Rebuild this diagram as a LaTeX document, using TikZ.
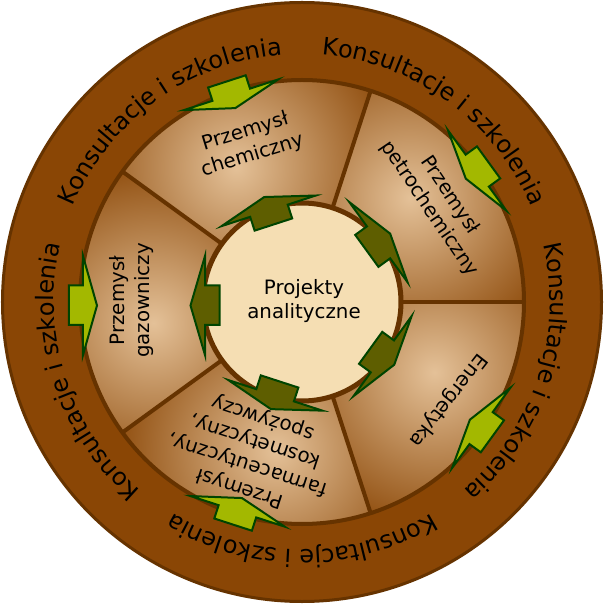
\documentclass[tikz,border=0pt]{standalone}
\usepackage{fontspec}
\setmainfont{DejaVu Sans}
\usetikzlibrary{decorations.text}
\definecolor{ringbrown}{RGB}{138,70,5}
\definecolor{darkbrown}{RGB}{102,51,0}
\definecolor{segcenter}{RGB}{228,193,152}
\definecolor{wheatc}{RGB}{245,222,179}
\definecolor{lightgreen}{RGB}{163,184,0}
\definecolor{olivec}{RGB}{94,94,0}
\definecolor{arrowstroke}{RGB}{0,68,0}
\newcommand{\myLabFont}{\fontsize{19.8}{24.5}\selectfont}
\newcommand{\myRingFont}{\fontsize{24}{28}\selectfont}
\begin{document}
\begin{tikzpicture}[x=1pt,y=1pt,
  outerarrow/.style={fill=lightgreen, draw=arrowstroke, line width=2pt, line join=miter},
  innerarrow/.style={fill=olivec, draw=arrowstroke, line width=2pt, line join=miter},
  seglabel/.style={align=center, font=\myLabFont, inner sep=0pt},
  divider/.style={draw=darkbrown, line width=4pt},
  ringtext/.style={decorate, decoration={text along path, text align=center,
     text={|\myRingFont|Konsultacje i szkolenia}}}]
\useasboundingbox (-302,-302) rectangle (302,302);
% outer ring
\filldraw[fill=ringbrown, draw=darkbrown, line width=3pt] (0,0) circle (299.5);
% segments with gradient
\foreach \c in {108,36,-36,-108,180} {
  \pgfmathsetmacro{\a}{\c-36}
  \pgfmathsetmacro{\b}{\c+36}
  \pgfmathsetmacro{\g}{\c+8}
  \begin{scope}
    \clip (\a:99) arc[start angle=\a, end angle=\b, radius=99]
      -- (\b:222) arc[start angle=\b, end angle=\a, radius=222] -- cycle;
    \fill[ringbrown] (0,0) circle (230);
    \shade[inner color=segcenter, outer color=ringbrown] (\g:150) circle (172);
  \end{scope}
}
\draw[darkbrown, line width=4pt] (0,0) circle (222);
\foreach \d in {144,72,0,-72,-144} {
  \draw[divider] (\d:99) -- (\d:222);
}
% inner circle
\filldraw[fill=wheatc, draw=darkbrown, line width=5pt] (0,0) circle (99);
\node[align=center, font=\myLabFont, inner sep=0pt] (proj) at (2,1) {Projekty\\analityczne};
% arrows
\foreach \c in {108,36,-36,-108,180} {
  \begin{scope}[rotate=\c-90]
    \draw[outerarrow] (-53,219) -- (-23,219) -- (-23,233) -- (16.5,233) -- (16.5,219) -- (46,219) -- (-3.5,205) -- cycle;
    \draw[innerarrow] (-53,97) -- (-23,97) -- (-23,82.5) -- (16.5,82.5) -- (16.5,97) -- (46,97) -- (-3.5,111.5) -- cycle;
  \end{scope}
}
% segment labels
\node[seglabel, rotate=17] (chem) at (108.6:167) {Przemysł\\chemiczny};
\node[seglabel, rotate=-56] (petro) at (36:170) {Przemysł\\petrochemiczny};
\node[seglabel, rotate=-128] (ener) at (-34:176) {Energetyka};
\node[seglabel, rotate=162] (farm) at (251.5:159) {Przemysł\\farmaceutyczny,\\kosmetyczny,\\spożywczy};
\node[seglabel, rotate=90] (gaz) at (179.5:170.5) {Przemysł\\gazowniczy};
% ring texts
\foreach \m in {126,54,-18,-90,-162} {
  \pgfmathsetmacro{\s}{\m+45}
  \pgfmathsetmacro{\e}{\m-45}
  \path[ringtext] (\s:248) arc[start angle=\s, end angle=\e, radius=248];
}
\end{tikzpicture}
\end{document}
